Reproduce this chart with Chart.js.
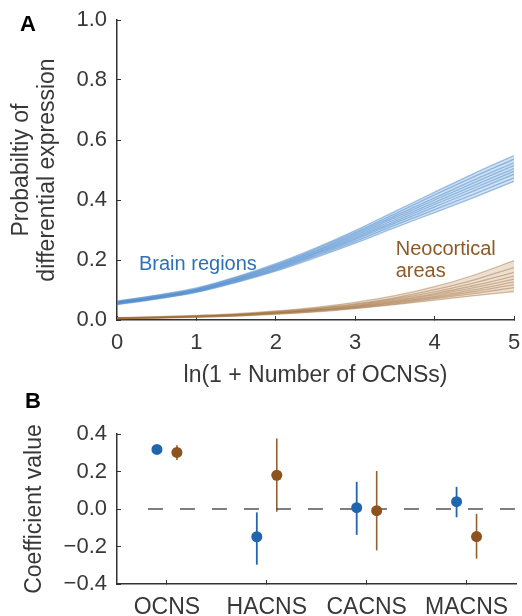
<!DOCTYPE html>
<html>
<head>
<meta charset="utf-8">
<script src="https://cdn.jsdelivr.net/npm/chart.js@4.4.0/dist/chart.umd.min.js"></script>
<style>
  body { margin: 0; background: #fff; width: 522px; height: 616px; position: relative; overflow: hidden; font-family: "Liberation Sans", Arial, sans-serif; }
  .panel { position: absolute; font-weight: bold; font-size: 22px; line-height: 22px; color: #000; }
  #wrapA { position: absolute; left: 0; top: 0; width: 522px; height: 392px; }
  #wrapB { position: absolute; left: 0; top: 392px; width: 522px; height: 224px; }
</style>
</head>
<body>
<div id="wrapA"><canvas id="chartA" width="522" height="392"></canvas></div>
<div id="wrapB"><canvas id="chartB" width="522" height="224"></canvas></div>
<div class="panel" style="left:20px;top:13px;">A</div>
<div class="panel" style="left:25px;top:390px;">B</div>
<script>
// Panel A: fitted curves, x = ln(1 + number of OCNSs)
const xVals = [0, 0.5, 1, 1.5, 2, 2.5, 3, 3.5, 4, 4.5, 5];

const brainCurves = [
  [0.051, 0.070, 0.092, 0.125, 0.163, 0.208, 0.256, 0.308, 0.358, 0.409, 0.462],
  [0.053, 0.071, 0.094, 0.127, 0.166, 0.213, 0.262, 0.316, 0.368, 0.420, 0.474],
  [0.054, 0.073, 0.096, 0.130, 0.169, 0.217, 0.268, 0.323, 0.377, 0.431, 0.486],
  [0.056, 0.075, 0.097, 0.132, 0.172, 0.221, 0.272, 0.329, 0.385, 0.440, 0.496],
  [0.057, 0.076, 0.099, 0.134, 0.175, 0.224, 0.277, 0.335, 0.392, 0.449, 0.505],
  [0.058, 0.077, 0.101, 0.136, 0.178, 0.228, 0.282, 0.341, 0.400, 0.458, 0.515],
  [0.060, 0.079, 0.102, 0.138, 0.181, 0.231, 0.287, 0.347, 0.407, 0.467, 0.524],
  [0.061, 0.081, 0.104, 0.141, 0.184, 0.236, 0.292, 0.354, 0.417, 0.478, 0.536],
  [0.063, 0.083, 0.107, 0.144, 0.188, 0.240, 0.298, 0.362, 0.426, 0.489, 0.548]
];

const neoCurves = [
  [0.004, 0.006, 0.009, 0.013, 0.019, 0.027, 0.038, 0.051, 0.066, 0.081, 0.095],
  [0.005, 0.007, 0.010, 0.014, 0.021, 0.029, 0.040, 0.054, 0.071, 0.089, 0.108],
  [0.005, 0.007, 0.011, 0.015, 0.022, 0.031, 0.042, 0.057, 0.075, 0.095, 0.118],
  [0.006, 0.008, 0.011, 0.016, 0.023, 0.032, 0.044, 0.060, 0.079, 0.101, 0.127],
  [0.006, 0.008, 0.012, 0.017, 0.024, 0.033, 0.046, 0.063, 0.084, 0.108, 0.136],
  [0.006, 0.009, 0.012, 0.017, 0.025, 0.035, 0.048, 0.066, 0.088, 0.115, 0.146],
  [0.007, 0.009, 0.013, 0.018, 0.026, 0.037, 0.051, 0.070, 0.094, 0.124, 0.159],
  [0.007, 0.010, 0.014, 0.019, 0.028, 0.039, 0.054, 0.074, 0.101, 0.134, 0.175],
  [0.008, 0.011, 0.015, 0.021, 0.030, 0.042, 0.059, 0.081, 0.111, 0.150, 0.198]
];

// Panel B: regression coefficients with intervals
const categories = ['OCNS', 'HACNS', 'CACNS', 'MACNS'];
const brainCoef = [0.318, -0.148, 0.007, 0.039];
const brainLo = [0.306, -0.297, -0.138, -0.044];
const brainHi = [0.330, -0.018, 0.145, 0.118];
const neoCoef = [0.302, 0.180, -0.009, -0.147];
const neoLo = [0.262, -0.014, -0.221, -0.265];
const neoHi = [0.340, 0.376, 0.203, -0.026];

const BLUE = '#2166ac';
const BROWN = '#8c5220';
const TEXT = '#383838';
const AXIS = '#333';
const FONT = '"Liberation Sans", Arial, sans-serif';

Chart.defaults.font.family = FONT;
Chart.defaults.color = TEXT;

function curveDataset(values, color, fill, fillColor) {
  return {
    data: xVals.map((x, i) => ({ x: x, y: values[i] })),
    borderColor: color,
    borderWidth: 1.3,
    pointRadius: 0,
    cubicInterpolationMode: 'monotone',
    fill: fill,
    backgroundColor: fillColor || 'transparent'
  };
}

// the band between the lowest and highest curve of each group is lightly shaded
function curveGroup(curves, color, fillColor, firstIndex) {
  return curves.map((c, k) => {
    const last = k === curves.length - 1;
    return curveDataset(c, color, last ? firstIndex : false, last ? fillColor : null);
  });
}

const curveLabels = {
  id: 'curveLabels',
  afterDatasetsDraw(chart) {
    const { ctx, scales: { x, y } } = chart;
    ctx.save();
    ctx.font = '20px ' + FONT;
    ctx.textAlign = 'left';
    ctx.textBaseline = 'alphabetic';
    ctx.fillStyle = '#2f6fb5';
    ctx.fillText('Brain regions', x.getPixelForValue(0.277), y.getPixelForValue(0.168));
    ctx.fillStyle = '#8c5a28';
    ctx.fillText('Neocortical', x.getPixelForValue(3.51), y.getPixelForValue(0.218));
    ctx.fillText('areas', x.getPixelForValue(3.51), y.getPixelForValue(0.144));
    ctx.restore();
  }
};

new Chart(document.getElementById('chartA'), {
  type: 'line',
  data: {
    datasets: [
      ...curveGroup(neoCurves, 'rgba(160, 110, 60, 0.45)', 'rgba(200, 160, 115, 0.32)', 0),
      ...curveGroup(brainCurves, 'rgba(65, 130, 198, 0.48)', 'rgba(110, 165, 220, 0.32)', neoCurves.length)
    ]
  },
  options: {
    responsive: false,
    animation: false,
    layout: { padding: { top: 20, right: 8, left: 0, bottom: 0 } },
    plugins: { legend: { display: false }, tooltip: { enabled: false }, filler: { propagate: false } },
    scales: {
      x: {
        type: 'linear',
        min: 0,
        max: 5,
        ticks: { stepSize: 1, font: { size: 22 }, color: TEXT, padding: 14 },
        grid: { display: true, drawOnChartArea: false, tickLength: -4, color: AXIS },
        border: { color: AXIS, width: 1.5 },
        title: { display: true, text: 'ln(1 + Number of OCNSs)', font: { size: 23 }, color: TEXT, padding: { bottom: 3 } },
        afterFit(scale) { scale.height = 72; scale.paddingLeft = 0; scale.paddingRight = 0; }
      },
      y: {
        min: 0,
        max: 1,
        ticks: { stepSize: 0.2, font: { size: 22 }, color: TEXT, padding: 14, callback: v => v.toFixed(1) },
        grid: { display: true, drawOnChartArea: false, tickLength: -4, color: AXIS },
        border: { color: AXIS, width: 1.5 },
        title: {
          display: true,
          text: ['Probabiltiy of', 'differential expression'],
          font: { size: 23, lineHeight: 26 / 23 },
          color: TEXT,
          padding: { top: 9 }
        },
        afterFit(scale) { scale.width = 117; scale.paddingTop = 0; scale.paddingBottom = 0; }
      }
    }
  },
  plugins: [curveLabels]
});

const errorBars = {
  id: 'errorBars',
  beforeDatasetsDraw(chart) {
    const { ctx, scales: { x, y } } = chart;
    ctx.save();
    const draw = (lo, hi, offset, color, width) => {
      lo.forEach((v, i) => {
        const px = x.getPixelForValue(i + offset);
        ctx.beginPath();
        ctx.strokeStyle = color;
        ctx.lineWidth = width;
        ctx.moveTo(px, y.getPixelForValue(v));
        ctx.lineTo(px, y.getPixelForValue(hi[i]));
        ctx.stroke();
      });
    };
    draw(brainLo, brainHi, -0.1, BLUE, 1.8);
    draw(neoLo, neoHi, 0.1, '#96602e', 1.6);
    ctx.restore();
  }
};

new Chart(document.getElementById('chartB'), {
  type: 'scatter',
  data: {
    datasets: [
      {
        data: brainCoef.map((v, i) => ({ x: i - 0.1, y: v })),
        backgroundColor: BLUE,
        borderWidth: 0,
        pointRadius: 5.5,
        order: 1
      },
      {
        data: neoCoef.map((v, i) => ({ x: i + 0.1, y: v })),
        backgroundColor: BROWN,
        borderWidth: 0,
        pointRadius: 5.5,
        order: 1
      },
      {
        type: 'line',
        data: [{ x: -0.19, y: 0 }, { x: 3.5, y: 0 }],
        borderColor: '#555',
        borderWidth: 1.6,
        borderDash: [15, 17],
        pointRadius: 0,
        order: 3
      }
    ]
  },
  options: {
    responsive: false,
    animation: false,
    layout: { padding: { top: 42, right: 2, left: 0, bottom: 0 } },
    plugins: { legend: { display: false }, tooltip: { enabled: false } },
    scales: {
      x: {
        type: 'linear',
        min: -0.5,
        max: 3.5,
        afterBuildTicks(scale) { scale.ticks = categories.map((c, i) => ({ value: i })); },
        ticks: { autoSkip: false, font: { size: 23 }, color: TEXT, padding: 14, callback: v => categories[v] },
        grid: { display: true, drawOnChartArea: false, tickLength: -4, color: AXIS },
        border: { color: AXIS, width: 1.5 },
        afterFit(scale) { scale.height = 32; scale.paddingLeft = 0; scale.paddingRight = 0; }
      },
      y: {
        min: -0.4,
        max: 0.4,
        ticks: {
          stepSize: 0.2,
          font: { size: 22 },
          color: TEXT,
          padding: 14,
          callback: v => (Math.abs(v) < 1e-9 ? '0.0' : (v < 0 ? '\u2212' : '') + Math.abs(v).toFixed(1))
        },
        grid: { display: true, drawOnChartArea: false, tickLength: -4, color: AXIS },
        border: { color: AXIS, width: 1.5 },
        title: { display: true, text: 'Coefficient value', font: { size: 23 }, color: TEXT, padding: { top: 21 } },
        afterFit(scale) { scale.width = 117; scale.paddingTop = 0; scale.paddingBottom = 0; }
      }
    }
  },
  plugins: [errorBars]
});
</script>
</body>
</html>
